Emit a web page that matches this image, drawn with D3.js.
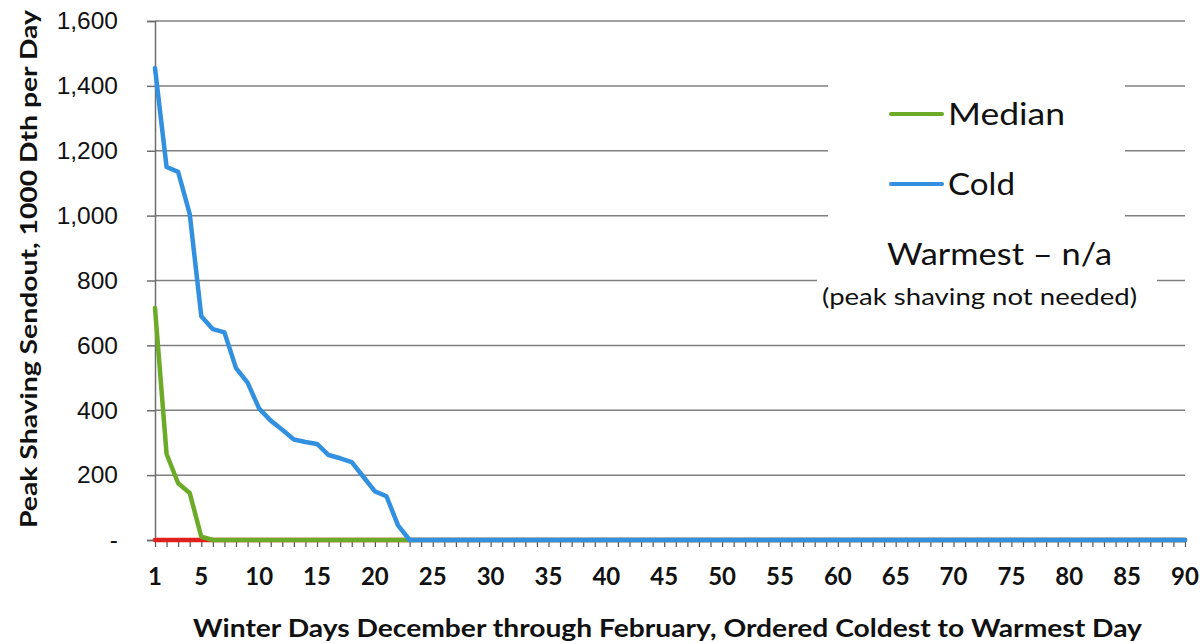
<!DOCTYPE html>
<html>
<head>
<meta charset="utf-8">
<script src="https://cdn.jsdelivr.net/npm/d3@7"></script>
<style>
  body { margin: 0; background: #fff; }
  svg { display: block; font-family: Lato, "Open Sans", sans-serif; }
</style>
</head>
<body>
<svg id="chart" width="1202" height="644"></svg>
<script>
// day 1..90, ordered coldest to warmest
const days = d3.range(1, 91);
const xTickLabels = [1, 5, 10, 15, 20, 25, 30, 35, 40, 45, 50, 55, 60, 65, 70, 75, 80, 85, 90];
const yTicks = [0, 200, 400, 600, 800, 1000, 1200, 1400, 1600];

const warmest = [
  0, 0, 0, 0, 0, 0, 0, 0, 0, 0, 0, 0, 0, 0, 0, 0, 0, 0, 0, 0, 0, 0, 0, 0, 0, 0, 0, 0, 0, 0,
  0, 0, 0, 0, 0, 0, 0, 0, 0, 0, 0, 0, 0, 0, 0, 0, 0, 0, 0, 0, 0, 0, 0, 0, 0, 0, 0, 0, 0, 0,
  0, 0, 0, 0, 0, 0, 0, 0, 0, 0, 0, 0, 0, 0, 0, 0, 0, 0, 0, 0, 0, 0, 0, 0, 0, 0, 0, 0, 0, 0
];
const median = [
  715, 265, 175, 145, 10, 0, 0, 0, 0, 0, 0, 0, 0, 0, 0, 0, 0, 0, 0, 0, 0, 0, 0, 0, 0, 0, 0, 0, 0, 0,
  0, 0, 0, 0, 0, 0, 0, 0, 0, 0, 0, 0, 0, 0, 0, 0, 0, 0, 0, 0, 0, 0, 0, 0, 0, 0, 0, 0, 0, 0,
  0, 0, 0, 0, 0, 0, 0, 0, 0, 0, 0, 0, 0, 0, 0, 0, 0, 0, 0, 0, 0, 0, 0, 0, 0, 0, 0, 0, 0, 0
];
const cold = [
  1455, 1150, 1135, 1005, 690, 650, 640, 530, 485, 405, 368, 340, 310, 302, 296, 262, 252, 240, 195, 150,
  135, 45, 0, 0, 0, 0, 0, 0, 0, 0,
  0, 0, 0, 0, 0, 0, 0, 0, 0, 0, 0, 0, 0, 0, 0, 0, 0, 0, 0, 0, 0, 0, 0, 0, 0, 0, 0, 0, 0, 0,
  0, 0, 0, 0, 0, 0, 0, 0, 0, 0, 0, 0, 0, 0, 0, 0, 0, 0, 0, 0, 0, 0, 0, 0, 0, 0, 0, 0, 0, 0
];

const colors = { warmest: "#e0201e", median: "#6cab27", cold: "#3190df" };

const svg = d3.select("#chart");
const plotLeft = 155, plotRight = 1185, plotTop = 21, plotBottom = 540;

const x = d3.scaleLinear().domain([1, 90]).range([plotLeft, plotRight]);
const y = d3.scaleLinear().domain([0, 1600]).range([plotBottom, plotTop]);

// horizontal gridlines
svg.append("g")
  .selectAll("line")
  .data(yTicks.filter(d => d > 0))
  .join("line")
  .attr("x1", plotLeft).attr("x2", plotRight)
  .attr("y1", d => y(d)).attr("y2", d => y(d))
  .attr("stroke", "#7f7f7f")
  .attr("stroke-width", 1.5);

// y axis
const yAxis = svg.append("g")
  .attr("transform", `translate(${plotLeft},0)`)
  .call(d3.axisLeft(y).tickValues(yTicks).tickSize(8).tickPadding(29)
    .tickFormat(d => d === 0 ? "-" : d3.format(",")(d)));
yAxis.select(".domain").attr("stroke", "#6e6e6e").attr("stroke-width", 1.5);
yAxis.selectAll(".tick line").attr("stroke", "#6e6e6e").attr("stroke-width", 1.5);
yAxis.selectAll(".tick text")
  .attr("fill", "#111")
  .style("font-size", "24.5px");

// x axis with a tick every day
const xAxis = svg.append("g")
  .attr("transform", `translate(0,${plotBottom})`)
  .call(d3.axisBottom(x).tickValues(days).tickSize(7).tickSizeOuter(0).tickFormat(""));
xAxis.select(".domain").attr("stroke", "#6e6e6e").attr("stroke-width", 1.5);
xAxis.selectAll(".tick line").attr("stroke", "#555").attr("stroke-width", 1.2);

svg.append("g")
  .selectAll("text")
  .data(xTickLabels)
  .join("text")
  .attr("x", d => x(d))
  .attr("y", 585)
  .attr("text-anchor", "middle")
  .attr("fill", "#111")
  .style("font-size", "24px")
  .style("font-weight", "bold")
  .text(d => d);

// series
const line = d3.line()
  .x((d, i) => x(days[i]))
  .y(d => y(d));

[["warmest", warmest], ["median", median], ["cold", cold]].forEach(([key, values]) => {
  svg.append("path")
    .datum(values)
    .attr("d", line)
    .attr("fill", "none")
    .attr("stroke", colors[key])
    .attr("stroke-width", 4.5)
    .attr("stroke-linejoin", "round")
    .attr("stroke-linecap", "round");
});

// legend (white box hides the gridlines behind it)
svg.append("rect").attr("x", 828).attr("y", 60).attr("width", 297).attr("height", 175).attr("fill", "#fff");
svg.append("rect").attr("x", 817).attr("y", 235).attr("width", 340).attr("height", 80).attr("fill", "#fff");

// label, colour, line y, text width in the picture
const legendItems = [["Median", colors.median, 114, 117], ["Cold", colors.cold, 184, 67]];
legendItems.forEach(([label, color, ly, w]) => {
  svg.append("line")
    .attr("x1", 891).attr("x2", 942)
    .attr("y1", ly).attr("y2", ly)
    .attr("stroke", color)
    .attr("stroke-width", 4)
    .attr("stroke-linecap", "round");
  svg.append("text")
    .attr("x", 948).attr("y", ly + 11)
    .attr("fill", "#111")
    .attr("textLength", w)
    .attr("lengthAdjust", "spacingAndGlyphs")
    .style("font-size", "30px")
    .text(label);
});

svg.append("text")
  .attr("x", 999.5).attr("y", 265)
  .attr("text-anchor", "middle")
  .attr("fill", "#111")
  .attr("textLength", 225)
  .attr("lengthAdjust", "spacingAndGlyphs")
  .style("font-size", "30px")
  .text("Warmest \u2013 n/a");

svg.append("text")
  .attr("x", 979.5).attr("y", 305)
  .attr("text-anchor", "middle")
  .attr("fill", "#111")
  .attr("textLength", 315)
  .attr("lengthAdjust", "spacingAndGlyphs")
  .style("font-size", "23px")
  .text("(peak shaving not needed)");

// axis titles
svg.append("text")
  .attr("x", 667.5).attr("y", 637)
  .attr("text-anchor", "middle")
  .attr("fill", "#111")
  .attr("textLength", 949)
  .attr("lengthAdjust", "spacingAndGlyphs")
  .style("font-size", "24px")
  .style("font-weight", "bold")
  .text("Winter Days December through February, Ordered Coldest to Warmest Day");

svg.append("text")
  .attr("transform", "translate(37,269) rotate(-90)")
  .attr("text-anchor", "middle")
  .attr("fill", "#111")
  .attr("textLength", 518)
  .attr("lengthAdjust", "spacingAndGlyphs")
  .style("font-size", "23px")
  .style("font-weight", "bold")
  .text("Peak Shaving Sendout, 1000 Dth per Day");
</script>
</body>
</html>
